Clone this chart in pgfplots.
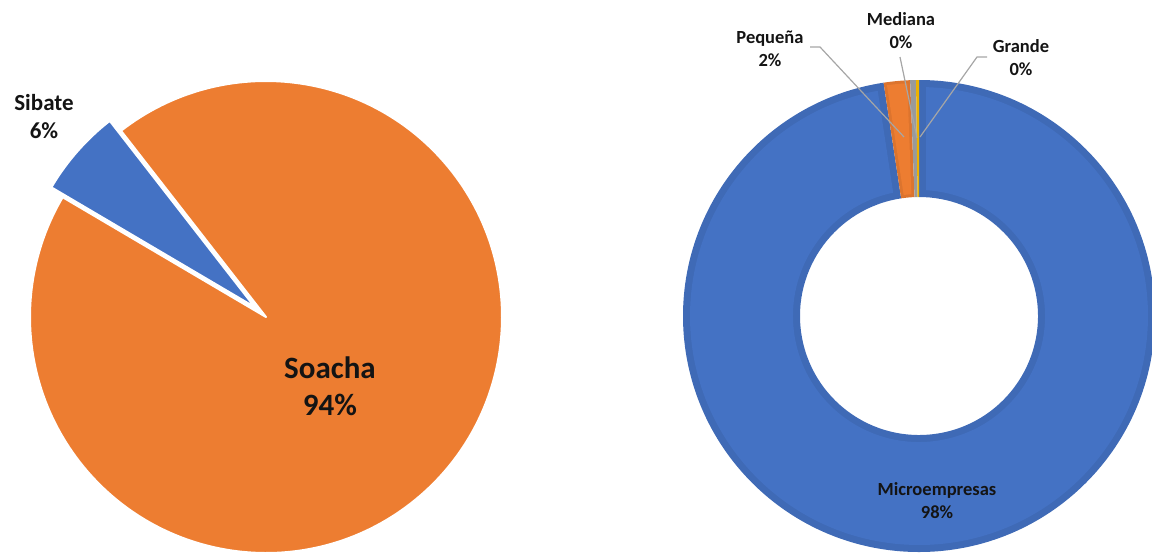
\documentclass[border=0pt]{standalone}
\usepackage{pgfplots}
\pgfplotsset{compat=1.18}
\usepackage{pgfplotstable}
\usepackage{fontspec}
\setmainfont{Carlito}

\definecolor{cblue}{HTML}{4472C4}
\definecolor{corange}{HTML}{ED7D31}
\definecolor{cgray}{HTML}{A5A5A5}
\definecolor{cyellow}{HTML}{FFC000}
\definecolor{leader}{HTML}{A6A6A6}
\definecolor{labtxt}{HTML}{141414}

% pie: municipios (percent), slices clockwise from start angle
\pgfplotstableread{
name   value color   explode
Sibate 6     cblue   15
Soacha 94    corange 0
}\municipios

% donut: tamano de empresa (percent); inset = width of darker rim
\pgfplotstableread{
name          value color   inset
Microempresas 97.6  cblue   7
Pequena       1.8   corange 3
Mediana       0.4   cgray   0
Grande        0.2   cyellow 0
}\empresas

\begin{document}
\begin{tikzpicture}
\begin{axis}[
    width=1152pt, height=555pt, scale only axis,
    xmin=0, xmax=1152, ymin=0, ymax=555, y dir=reverse,
    hide axis, clip=false]

  % left pie
  \pgfplotsextra{%
    \gdef\angcur{149.5}%
    \pgfplotstablegetrowsof{\municipios}%
    \pgfmathtruncatemacro\nlast{\pgfplotsretval-1}%
    \foreach \i in {0,...,\nlast}{%
      \pgfplotstablegetelem{\i}{value}\of\municipios \pgfmathsetmacro\val{\pgfplotsretval}%
      \pgfplotstablegetelem{\i}{color}\of\municipios \edef\col{\pgfplotsretval}%
      \pgfplotstablegetelem{\i}{explode}\of\municipios \edef\exd{\pgfplotsretval}%
      \pgfmathsetmacro\angend{\angcur-3.6*\val}%
      \pgfmathsetmacro\angmid{(\angcur+\angend)/2}%
      \fill[\col, draw=white, line width=2pt, line join=round, shift={(\angmid:\exd pt)}]
        (axis cs:266,317) -- ([shift={(\angcur:236pt)}]axis cs:266,317)
        arc[start angle=\angcur, end angle=\angend, radius=236pt] -- cycle;
      \xdef\angcur{\angend}%
    }%
  }

  % right donut
  \pgfplotsextra{%
    \gdef\angcur{90}%
    \def\Ro{236}\def\Ri{119}%
    \pgfplotstablegetrowsof{\empresas}%
    \pgfmathtruncatemacro\nlast{\pgfplotsretval-1}%
    \foreach \i in {0,...,\nlast}{%
      \pgfplotstablegetelem{\i}{value}\of\empresas \pgfmathsetmacro\val{\pgfplotsretval}%
      \pgfplotstablegetelem{\i}{color}\of\empresas \edef\col{\pgfplotsretval}%
      \pgfplotstablegetelem{\i}{inset}\of\empresas \edef\ins{\pgfplotsretval}%
      \pgfmathsetmacro\angend{\angcur-3.6*\val}%
      \fill[\col!93!black]
        ([shift={(\angcur:\Ro pt)}]axis cs:919,316)
        arc[start angle=\angcur, end angle=\angend, radius=\Ro pt]
        -- ([shift={(\angend:\Ri pt)}]axis cs:919,316)
        arc[start angle=\angend, end angle=\angcur, radius=\Ri pt] -- cycle;
      \ifdim\ins pt>0pt
        \pgfmathsetmacro\ro{\Ro-\ins}\pgfmathsetmacro\ri{\Ri+\ins}%
        \pgfmathsetmacro\dao{\ins/\ro*57.2958}\pgfmathsetmacro\dai{\ins/\ri*57.2958}%
        \pgfmathsetmacro\aos{\angcur-\dao}\pgfmathsetmacro\aoe{\angend+\dao}%
        \pgfmathsetmacro\ais{\angcur-\dai}\pgfmathsetmacro\aie{\angend+\dai}%
        \fill[\col]
          ([shift={(\aos:\ro pt)}]axis cs:919,316)
          arc[start angle=\aos, end angle=\aoe, radius=\ro pt]
          -- ([shift={(\aie:\ri pt)}]axis cs:919,316)
          arc[start angle=\aie, end angle=\ais, radius=\ri pt] -- cycle;
      \fi
      \xdef\angcur{\angend}%
    }%
  }

  % leader lines
  \draw[leader, line width=1.2pt] (axis cs:810,47) -- (axis cs:820,47) -- (axis cs:904,137);
  \draw[leader, line width=1.2pt] (axis cs:900,57) -- (axis cs:917,138);
  \draw[leader, line width=1.2pt] (axis cs:987,57) -- (axis cs:977,57) -- (axis cs:920,137);

  % labels
  \begin{scope}[every node/.style={text=labtxt, font=\bfseries, align=center}]
    \node[font=\fontsize{23}{28}\selectfont\bfseries] at (axis cs:44,117) {Sibate\\6\%};
    \node[font=\fontsize{31}{37}\selectfont\bfseries] at (axis cs:330,386) {Soacha\\94\%};
    \node[font=\fontsize{18.5}{23}\selectfont\bfseries] at (axis cs:770,49) {Pequeña\\2\%};
    \node[font=\fontsize{18.5}{23}\selectfont\bfseries] at (axis cs:901,31) {Mediana\\0\%};
    \node[font=\fontsize{18.5}{23}\selectfont\bfseries] at (axis cs:1021,58) {Grande\\0\%};
    \node[font=\fontsize{18.5}{23}\selectfont\bfseries] at (axis cs:937,501) {Microempresas\\98\%};
  \end{scope}
\end{axis}
\pgfresetboundingbox
\useasboundingbox (current axis.south west) rectangle (current axis.north east);
\end{tikzpicture}
\end{document}
